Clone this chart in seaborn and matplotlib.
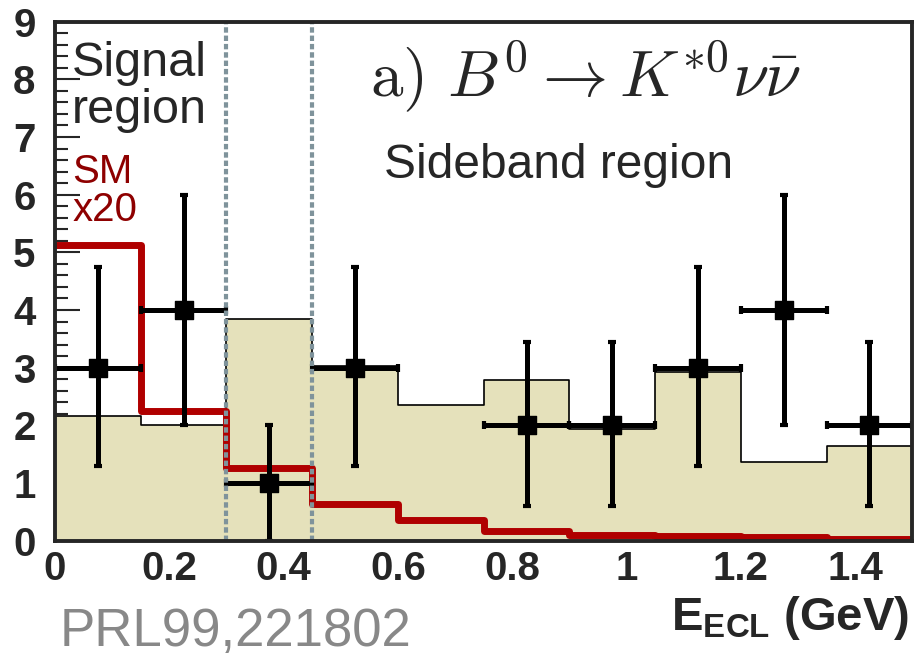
import numpy as np
import pandas as pd
import seaborn as sns
import matplotlib.pyplot as plt
from matplotlib.ticker import MultipleLocator

# bin edges in E_ECL (GeV)
edges = [0.0, 0.15, 0.30, 0.45, 0.60, 0.75, 0.90, 1.05, 1.20, 1.35, 1.50]
centers = [0.075, 0.225, 0.375, 0.525, 0.675, 0.825, 0.975, 1.125, 1.275, 1.425]

# expected background (MC), tan histogram
background = [2.17, 2.0, 3.85, 3.03, 2.36, 2.79, 1.93, 2.92, 1.36, 1.64]
# SM signal x20, red line
sm_x20 = [5.13, 2.25, 1.26, 0.64, 0.36, 0.17, 0.10, 0.08, 0.06, 0.03]

# observed data (bin at 0.675 has no entries)
data_x = [0.075, 0.225, 0.375, 0.525, 0.825, 0.975, 1.125, 1.275, 1.425]
data_n = [3, 4, 1, 3, 2, 2, 3, 4, 2]
data_lo = [1.3, 2.0, 0.0, 1.3, 0.6, 0.6, 1.3, 2.0, 0.6]
data_hi = [4.75, 6.0, 2.0, 4.75, 3.45, 3.45, 4.75, 6.0, 3.45]

region_lines = [0.30, 0.45]
xticks = [0, 0.2, 0.4, 0.6, 0.8, 1.0, 1.2, 1.4]
xtick_labels = ["0", "0.2", "0.4", "0.6", "0.8", "1", "1.2", "1.4"]

sns.set_style("ticks")
plt.rcParams['font.family'] = ['Liberation Sans', 'DejaVu Sans']
plt.rcParams['mathtext.fontset'] = 'custom'
plt.rcParams['mathtext.rm'] = 'Liberation Sans'
plt.rcParams['mathtext.bf'] = 'Liberation Sans:bold'

fig = plt.figure(figsize=(9.16, 6.57), dpi=100)
ax = fig.add_axes([0.060, 0.177, 0.936, 0.790])

hist = pd.DataFrame({"x": centers, "bkg": background, "sm": sm_x20})
sns.histplot(data=hist, x="x", weights="bkg", bins=edges, element="step",
             fill=True, color="#e5e1bb", alpha=1, edgecolor="black",
             linewidth=1.2, ax=ax, zorder=1)
sns.histplot(data=hist, x="x", weights="sm", bins=edges, element="step",
             fill=False, color="#b00000", linewidth=5, ax=ax, zorder=2)

for xv in region_lines:
    ax.axvline(xv, color="#7f939b", linewidth=3, linestyle=(0, (1.3, 0.7)),
               zorder=5)

pts = pd.DataFrame({"x": data_x, "n": data_n})
yerr = [np.array(data_n) - np.array(data_lo), np.array(data_hi) - np.array(data_n)]
ax.errorbar(data_x, data_n, xerr=0.075, yerr=yerr, fmt='none', ecolor='black',
            elinewidth=3.6, capsize=3, capthick=3, zorder=4)
sns.scatterplot(data=pts, x="x", y="n", marker="s", s=160, color="black",
                edgecolor="black", ax=ax, zorder=6)

ax.set_xlim(0, 1.5)
ax.set_ylim(0, 9)
ax.set_xlabel("")
ax.set_ylabel("")
ax.set_xticks(xticks)
ax.set_xticklabels(xtick_labels)
ax.xaxis.set_minor_locator(MultipleLocator(0.05))
ax.yaxis.set_major_locator(MultipleLocator(1))
ax.yaxis.set_minor_locator(MultipleLocator(0.2))
ax.tick_params(which='major', direction='in', length=18, width=1.5,
               labelsize=29, top=False, right=False)
ax.tick_params(which='minor', direction='in', length=9, width=1.5,
               top=False, right=False)
ax.tick_params(axis='y', pad=14)
ax.tick_params(axis='x', pad=7)
for lab in ax.get_xticklabels() + ax.get_yticklabels():
    lab.set_fontweight('bold')
for sp in ax.spines.values():
    sp.set_linewidth(2.8)
    sp.set_visible(True)
    sp.set_zorder(10)

ax.text(0.03, 8.66, "Signal\nregion", fontsize=35, va='top', ha='left',
        linespacing=1.05)
ax.text(0.03, 6.72, "SM\nx20", fontsize=29, va='top', ha='left',
        color="#8e0000", linespacing=1.0)
ax.text(0.575, 6.5, "Sideband region", fontsize=34.5, va='center', ha='left')
ax.text(0.552, 8.06, r"$\mathrm{a)}\ B^0 \rightarrow K^{*0}\nu\bar{\nu}$",
        fontsize=47, va='center', ha='left', math_fontfamily='cm')

fig.text(0.993, 0.041, r"$\mathbf{E}_{\mathbf{ECL}}$ (GeV)", fontsize=34,
         fontweight='bold', ha='right', va='baseline')
fig.text(0.065, 0.016, "PRL99,221802", fontsize=38, color="#888888",
         ha='left', va='baseline')

fig.savefig("out.png", dpi=100)
